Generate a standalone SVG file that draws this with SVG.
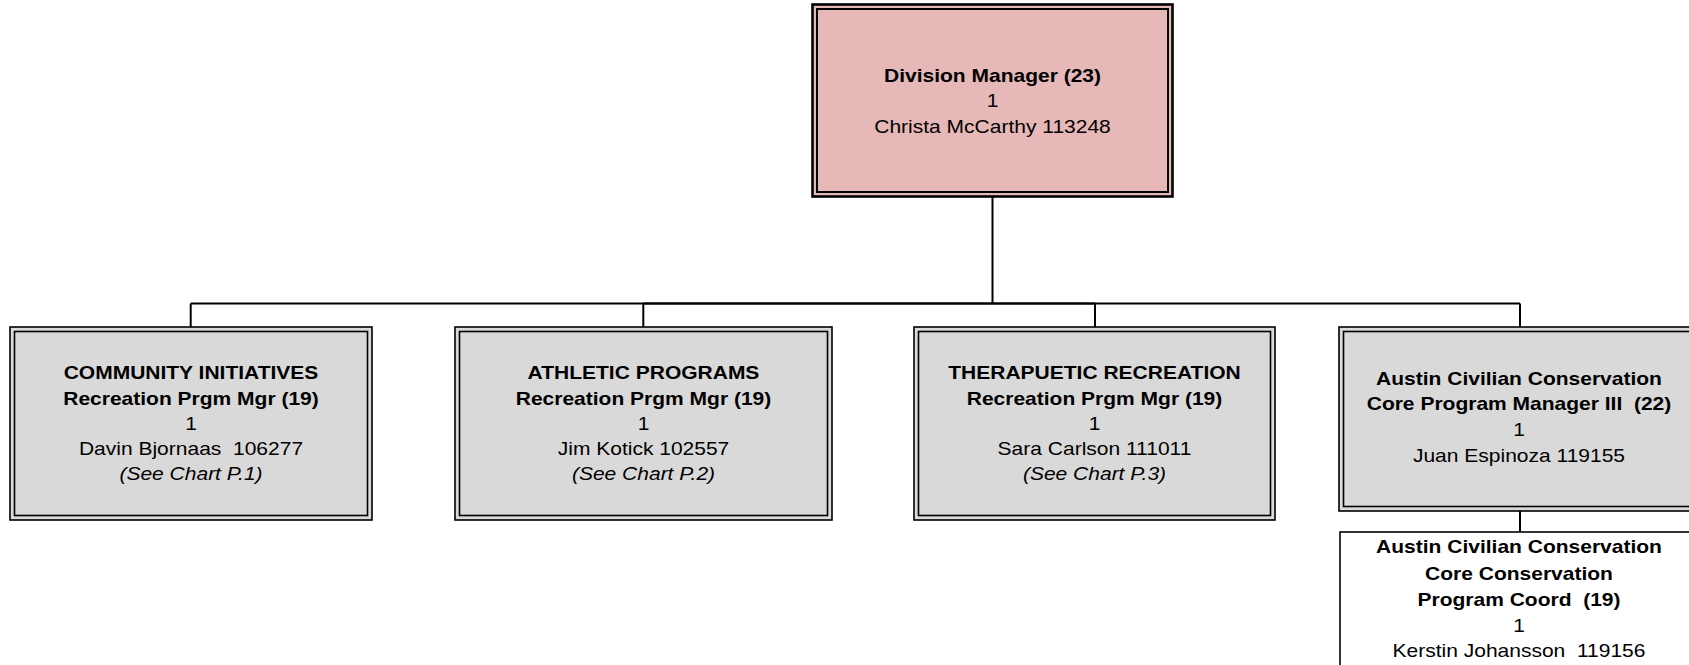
<svg xmlns="http://www.w3.org/2000/svg" width="1689" height="665" viewBox="0 0 1689 665">
<style>
.t{font-family:"Liberation Sans",Arial,sans-serif;font-size:18.6px;fill:#000;text-anchor:middle;white-space:pre}
.b{font-weight:bold}
.i{font-style:italic}
.o{fill:none;stroke:#000;stroke-width:1.6}
.gray{fill:#D9D9D9}
.pink{fill:#E6B8B7}
.c{fill:none;stroke:#000;stroke-width:2}
</style>
<rect width="1689" height="665" fill="#fff"/>
<g id="connectors">
<path class="c" d="M992.5 197V303.5"/>
<path class="c" d="M190.7 303.5H1520"/>
<path class="c" d="M643.3 303.5H1095" stroke-width="3"/>
<path class="c" d="M190.7 303.5V327"/>
<path class="c" d="M643.3 303.5V327"/>
<path class="c" d="M1095 303.5V327"/>
<path class="c" d="M1520 303.5V327"/>
<path class="c" d="M1520 511V532"/>
</g>
<g id="division-manager">
<rect class="pink" x="812" y="4" width="361" height="193"/>
<rect x="812.5" y="4.5" width="360" height="192" fill="none" stroke="#000" stroke-width="2.6"/>
<rect x="817" y="9" width="351" height="183" fill="none" stroke="#000" stroke-width="2"/>
<g transform="translate(992.5,0) scale(1.13,1)">
<text class="t b" x="0" y="82">Division Manager (23)</text>
<text class="t" x="0" y="107">1</text>
<text class="t" x="0" y="133">Christa McCarthy 113248</text>
</g>
</g>
<g id="community-initiatives">
<rect class="gray" x="10" y="327" width="362" height="193"/>
<rect class="o" x="10" y="327" width="362" height="193"/>
<rect class="o" x="14.5" y="331.5" width="353" height="184"/>
<g transform="translate(191,0) scale(1.13,1)">
<text class="t b" x="0" y="379.5">COMMUNITY INITIATIVES</text>
<text class="t b" x="0" y="405">Recreation Prgm Mgr (19)</text>
<text class="t" x="0" y="430">1</text>
<text class="t" x="0" y="455" xml:space="preserve">Davin Bjornaas  106277</text>
<text class="t i" x="0" y="480">(See Chart P.1)</text>
</g>
</g>
<g id="athletic-programs">
<rect class="gray" x="455" y="327" width="377" height="193"/>
<rect class="o" x="455" y="327" width="377" height="193"/>
<rect class="o" x="459.5" y="331.5" width="368" height="184"/>
<g transform="translate(643.5,0) scale(1.13,1)">
<text class="t b" x="0" y="379.5">ATHLETIC PROGRAMS</text>
<text class="t b" x="0" y="405">Recreation Prgm Mgr (19)</text>
<text class="t" x="0" y="430">1</text>
<text class="t" x="0" y="455">Jim Kotick 102557</text>
<text class="t i" x="0" y="480">(See Chart P.2)</text>
</g>
</g>
<g id="therapeutic-recreation">
<rect class="gray" x="914" y="327" width="361" height="193"/>
<rect class="o" x="914" y="327" width="361" height="193"/>
<rect class="o" x="918.5" y="331.5" width="352" height="184"/>
<g transform="translate(1094.5,0) scale(1.13,1)">
<text class="t b" x="0" y="379.5">THERAPUETIC RECREATION</text>
<text class="t b" x="0" y="405">Recreation Prgm Mgr (19)</text>
<text class="t" x="0" y="430">1</text>
<text class="t" x="0" y="455">Sara Carlson 111011</text>
<text class="t i" x="0" y="480">(See Chart P.3)</text>
</g>
</g>
<g id="accc-manager">
<rect class="gray" x="1339" y="327" width="362" height="184"/>
<rect class="o" x="1339" y="327" width="362" height="184"/>
<rect class="o" x="1343.5" y="331.5" width="353" height="175"/>
<g transform="translate(1519,0) scale(1.13,1)">
<text class="t b" x="0" y="385">Austin Civilian Conservation</text>
<text class="t b" x="0" y="410.5" xml:space="preserve">Core Program Manager III  (22)</text>
<text class="t" x="0" y="436.5">1</text>
<text class="t" x="0" y="462.5">Juan Espinoza 119155</text>
</g>
</g>
<g id="accc-coord">
<rect x="1340" y="532" width="362" height="160" fill="#fff" stroke="#000" stroke-width="1.6"/>
<g transform="translate(1519,0) scale(1.13,1)">
<text class="t b" x="0" y="553.5">Austin Civilian Conservation</text>
<text class="t b" x="0" y="580">Core Conservation</text>
<text class="t b" x="0" y="606" xml:space="preserve">Program Coord  (19)</text>
<text class="t" x="0" y="632">1</text>
<text class="t" x="0" y="657" xml:space="preserve">Kerstin Johansson  119156</text>
</g>
</g>
</svg>
